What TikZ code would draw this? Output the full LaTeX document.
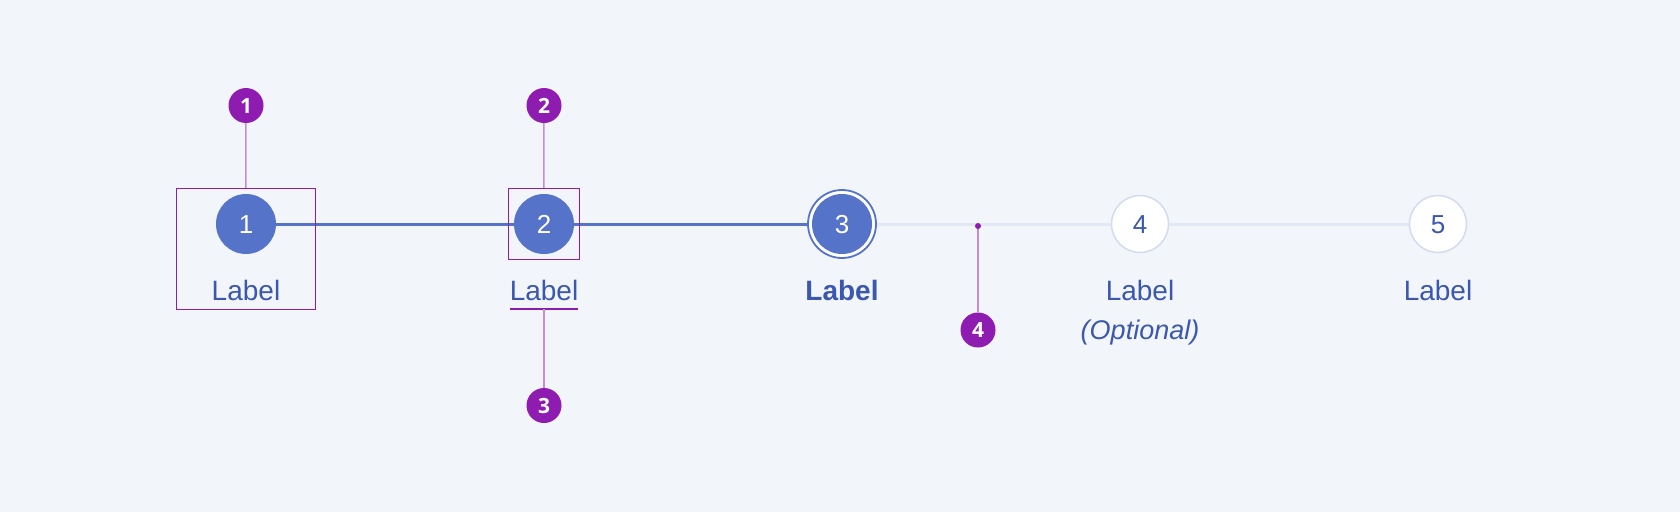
\documentclass[tikz,border=0pt]{standalone}
\usepackage{fontspec}
\setmainfont{Liberation Sans}
\newfontfamily\badgefont{Open Sans}
\definecolor{bg}{HTML}{F2F5FA}
\definecolor{primary}{HTML}{5573C8}
\definecolor{txt}{HTML}{3B57AE}
\definecolor{lightline}{HTML}{E2E8F6}
\definecolor{ringgrey}{HTML}{D3DBEE}
\definecolor{anno}{HTML}{8F1CB0}
\definecolor{annolight}{HTML}{C48BE0}
\tikzset{
  donestep/.style={circle, fill=primary, minimum size=60pt, inner sep=0pt, text=white, font=\fontsize{26}{30}\selectfont},
  todostep/.style={circle, fill=white, draw=ringgrey, line width=1.5pt, minimum size=57pt, inner sep=0pt, text=txt, font=\fontsize{26}{30}\selectfont},
  activering/.style={circle, fill=white, draw=primary, line width=1.8pt, minimum size=68pt, inner sep=0pt},
  stepnum/.style={anchor=base, inner sep=0pt, font=\fontsize{26}{30}\selectfont},
  steplabel/.style={text=txt, anchor=base, inner sep=0pt, font=\fontsize{28}{34}\selectfont},
  badge/.style={circle, fill=anno, minimum size=35pt, inner sep=0pt, text=white, font=\badgefont\bfseries\fontsize{21}{26}\selectfont},
  annobox/.style={draw=anno, line width=1pt, inner sep=0pt},
  leader/.style={draw=annolight, line width=1.5pt},
  doneline/.style={draw=primary, line width=3pt},
  todoline/.style={draw=lightline, line width=3pt},
}
\begin{document}
\begin{tikzpicture}[x=1pt,y=-1pt]
\useasboundingbox[fill=bg] (0,0) rectangle (1680,512);
% connectors first (under circles)
\coordinate (c1) at (246,224);
\coordinate (c2) at (544,224);
\coordinate (c3) at (842,224);
\coordinate (c4) at (1140,224);
\coordinate (c5) at (1438,224);
\draw[doneline] (c1) -- (c2);
\draw[doneline] (c2) -- (c3);
\draw[todoline] (c3) -- (c4);
\draw[todoline] (c4) -- (c5);
% steps
\node[donestep] (s1) at (c1) {};
\node[donestep] (s2) at (c2) {};
\node[activering] (s3ring) at (c3) {};
\node[donestep] (s3) at (c3) {};
\node[todostep] (s4) at (c4) {};
\node[todostep] (s5) at (c5) {};
\node[stepnum, text=white] (n1) at (246,233.5) {1};
\node[stepnum, text=white] (n2) at (544,233.5) {2};
\node[stepnum, text=white] (n3) at (842,233.5) {3};
\node[stepnum, text=txt] (n4) at (1140,233.5) {4};
\node[stepnum, text=txt] (n5) at (1438,233.5) {5};
% labels
\node[steplabel] (l1) at (246,300) {Label};
\node[steplabel] (l2) at (544,300) {Label};
\node[steplabel, font=\fontsize{28}{34}\selectfont\bfseries] (l3) at (842,300) {Label};
\node[steplabel] (l4) at (1140,300) {Label};
\node[steplabel, font=\fontsize{27}{34}\selectfont\itshape] (l4b) at (1140,339) {(Optional)};
\node[steplabel] (l5) at (1438,300) {Label};
% annotation boxes
\node[annobox, minimum width=139pt, minimum height=121pt] (box1) at (245.8,248.8) {};
\node[annobox, minimum width=71pt, minimum height=71pt] (box2) at (543.8,223.8) {};
\coordinate (u3a) at (510,309);
\coordinate (u3b) at (578,309);
\coordinate (u3) at (544,309);
\draw[draw=anno, line width=2pt] (u3a) -- (u3b);
\coordinate (d4) at (978,226);
% badges
\node[badge] (b1) at (246,105.5) {1};
\node[badge] (b2) at (544,105.5) {2};
\node[badge] (b3) at (544,405.5) {3};
\node[badge] (b4) at (978,330) {4};
% leaders
\draw[leader] (b1) -- (box1.north);
\draw[leader] (b2) -- (box2.north);
\draw[leader] (u3) -- (b3);
\draw[leader] (d4) -- (b4);
\fill[anno] (d4) circle (3pt);
\end{tikzpicture}
\end{document}
